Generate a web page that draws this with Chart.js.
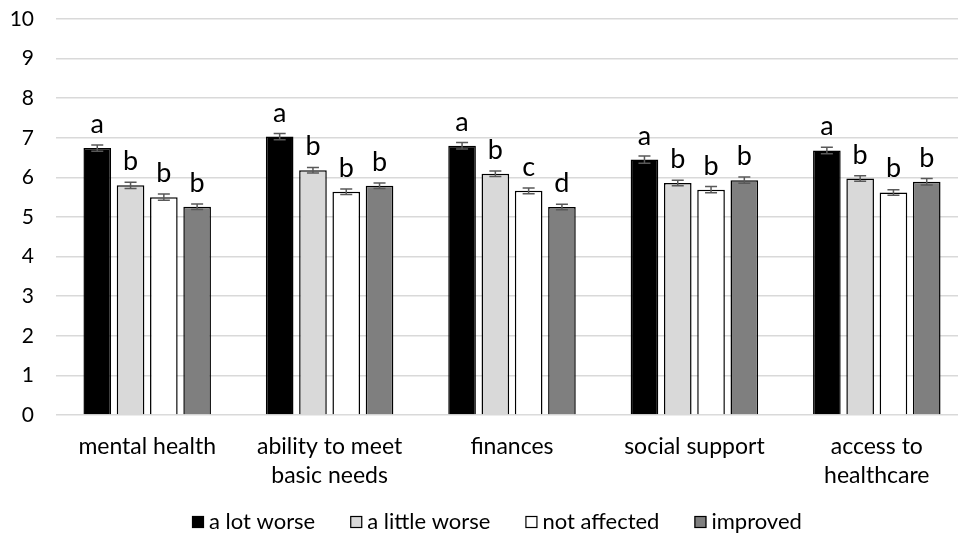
<!DOCTYPE html>
<html>
<head>
<meta charset="utf-8">
<script src="https://cdn.jsdelivr.net/npm/chart.js@4/dist/chart.umd.min.js"></script>
<style>
  html, body { margin: 0; padding: 0; background: #fff; }
  #wrap { width: 958px; height: 541px; overflow: hidden; position: relative; }
  canvas { display: block; }
</style>
</head>
<body>
<div id="wrap"><canvas id="c" width="968" height="541"></canvas></div>
<script>
// Outcome domains (x categories)
const categories = [
  ['mental health'],
  ['ability to meet', 'basic needs'],
  ['finances'],
  ['social support'],
  ['access to', 'healthcare']
];

// Series names
const seriesNames = ['a lot worse', 'a little worse', 'not affected', 'improved'];

// Mean scores per domain
const aLotWorse    = [6.74, 7.03, 6.80, 6.45, 6.68];
const aLittleWorse = [5.80, 6.18, 6.09, 5.86, 5.97];
const notAffected  = [5.50, 5.64, 5.66, 5.69, 5.62];
const improved     = [5.26, 5.79, 5.25, 5.93, 5.89];

// Standard errors
const aLotWorseErr    = [0.08, 0.08, 0.08, 0.09, 0.08];
const aLittleWorseErr = [0.08, 0.07, 0.07, 0.07, 0.07];
const notAffectedErr  = [0.08, 0.07, 0.07, 0.08, 0.07];
const improvedErr     = [0.07, 0.07, 0.07, 0.08, 0.08];

// Significance group letters
const aLotWorseLetters    = ['a', 'a', 'a', 'a', 'a'];
const aLittleWorseLetters = ['b', 'b', 'b', 'b', 'b'];
const notAffectedLetters  = ['b', 'b', 'c', 'b', 'b'];
const improvedLetters     = ['b', 'b', 'd', 'b', 'b'];

// Y axis ticks
const yTicks = [0, 1, 2, 3, 4, 5, 6, 7, 8, 9, 10];

const FONT = 'Lato, "Open Sans", sans-serif';
const fills = ['#000000', '#d9d9d9', '#ffffff', '#7f7f7f'];
const values = [aLotWorse, aLittleWorse, notAffected, improved];
const errs = [aLotWorseErr, aLittleWorseErr, notAffectedErr, improvedErr];
const letters = [aLotWorseLetters, aLittleWorseLetters, notAffectedLetters, improvedLetters];

const datasets = seriesNames.map((name, i) => ({
  label: name,
  data: values[i],
  errors: errs[i],
  letters: letters[i],
  backgroundColor: fills[i],
  borderColor: '#000000',
  borderWidth: 1.5,
  categoryPercentage: 0.73,
  barPercentage: 0.83
}));

// Error bars and letter labels drawn on top of each bar
const barDecorations = {
  id: 'barDecorations',
  afterDatasetsDraw(chart) {
    const ctx = chart.ctx;
    const y = chart.scales.y;
    chart.data.datasets.forEach((ds, di) => {
      const meta = chart.getDatasetMeta(di);
      meta.data.forEach((bar, i) => {
        const v = ds.data[i], e = ds.errors[i];
        const yHi = y.getPixelForValue(v + e);
        const yLo = y.getPixelForValue(v - e);
        ctx.save();
        ctx.strokeStyle = '#595959';
        ctx.lineWidth = 1.5;
        ctx.beginPath();
        ctx.moveTo(bar.x, yHi); ctx.lineTo(bar.x, yLo);
        ctx.moveTo(bar.x - 6, yHi); ctx.lineTo(bar.x + 6, yHi);
        ctx.moveTo(bar.x - 6, yLo); ctx.lineTo(bar.x + 6, yLo);
        ctx.stroke();
        ctx.fillStyle = '#000';
        ctx.font = '27px ' + FONT;
        ctx.textAlign = 'center';
        ctx.textBaseline = 'alphabetic';
        ctx.fillText(ds.letters[i], bar.x, y.getPixelForValue(v) - 15);
        ctx.restore();
      });
    });
  }
};

// Legend row along the bottom
const bottomLegend = {
  id: 'bottomLegend',
  afterDraw(chart) {
    const ctx = chart.ctx;
    ctx.save();
    ctx.font = '22px ' + FONT;
    ctx.textBaseline = 'middle';
    ctx.textAlign = 'left';
    const cy = 522, box = 12, gapText = 5, gapItem = 35;
    let x = 192;
    chart.data.datasets.forEach(ds => {
      ctx.fillStyle = ds.backgroundColor;
      ctx.fillRect(x, cy - box / 2, box, box);
      ctx.strokeStyle = '#000';
      ctx.lineWidth = 1.2;
      ctx.strokeRect(x + 0.5, cy - box / 2 + 0.5, box - 1, box - 1);
      x += box + gapText;
      ctx.fillStyle = '#000';
      ctx.fillText(ds.label, x, cy);
      x += ctx.measureText(ds.label).width + gapItem;
    });
    ctx.restore();
  }
};

new Chart(document.getElementById('c'), {
  type: 'bar',
  data: { labels: categories, datasets },
  options: {
    responsive: false,
    animation: false,
    devicePixelRatio: 1,
    layout: { padding: { top: 19, left: 0, right: 0, bottom: 0 } },
    plugins: { legend: { display: false }, tooltip: { enabled: false } },
    scales: {
      x: {
        grid: { display: false, drawTicks: false },
        border: { display: false },
        ticks: {
          color: '#000',
          font: { family: FONT, size: 23, lineHeight: 1.25 },
          padding: 17,
          maxRotation: 0,
          autoSkip: false
        },
        afterFit(s) { s.height = 126; }
      },
      y: {
        min: 0, max: 10,
        afterBuildTicks(s) { s.ticks = yTicks.map(v => ({ value: v })); },
        grid: { color: '#d9d9d9', lineWidth: 1.5, drawTicks: false },
        border: { display: false },
        ticks: {
          color: '#000',
          font: { family: FONT, size: 21 },
          padding: 22
        },
        afterFit(s) { s.width = 56; s.paddingTop = 0; s.paddingBottom = 0; }
      }
    }
  },
  plugins: [barDecorations, bottomLegend]
});
</script>
</body>
</html>
